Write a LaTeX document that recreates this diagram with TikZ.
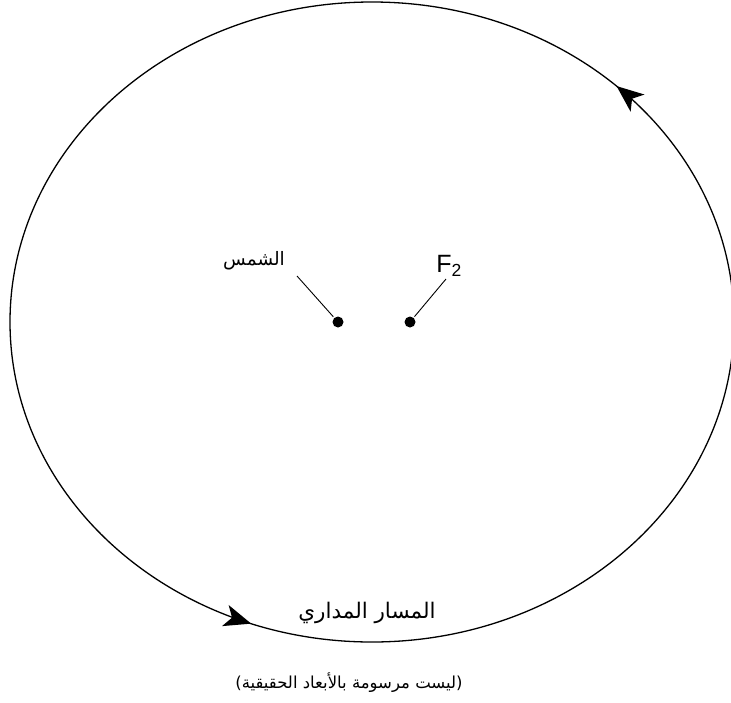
\documentclass[tikz,border=0pt]{standalone}
\usepackage{fontspec}
\setmainfont{Liberation Sans}
\newfontfamily\arabicfont[Script=Arabic]{DejaVu Sans}
\TeXXeTstate=1
\usetikzlibrary{arrows.meta,calc}
\begin{document}
\begin{tikzpicture}[x=1pt,y=1pt,
  orbit/.style={line width=1.3pt},
  tipstyle/.style={line width=1.3pt,-{Stealth[length=27pt,width=22pt,inset=7pt]}},
  dotstyle/.style={circle,fill=black,inner sep=0pt,minimum size=11pt},
  leader/.style={line width=0.9pt},
  artext/.style={font=\arabicfont,inner sep=0pt}]
\useasboundingbox (0,0) rectangle (731,-702);
\begin{scope}
\clip (0,0) rectangle (731,-702);
\draw[orbit] (372,-322) ellipse [x radius=362, y radius=320];
\draw[tipstyle] ([shift={(372,-322)}]46.5:362 and 320) arc[start angle=46.5, end angle=47.5, x radius=362, y radius=320];
\draw[tipstyle] ([shift={(372,-322)}]249.5:362 and 320) arc[start angle=249.5, end angle=250.5, x radius=362, y radius=320];
\end{scope}
\node[dotstyle] (sun) at (338,-322) {};
\node[dotstyle] (f2) at (410,-322) {};
\node[artext,font=\arabicfont\fontsize{18.5}{20}\selectfont] (sunlabel) at (254,-261) {\beginR الشمس\endR};
\node[font=\fontsize{25}{27}\selectfont,inner sep=0pt] (f2label) at (449,-266) {F\textsubscript{2}};
\coordinate (sunend) at (297,-276);
\coordinate (f2end) at (446,-279);
\draw[leader] (sunend) -- ($(sun)!7pt!(sunend)$);
\draw[leader] (f2end) -- ($(f2)!7pt!(f2end)$);
\node[artext,font=\arabicfont\fontsize{21.5}{23}\selectfont] (orbitlabel) at (367,-613) {\beginR المسار المداري\endR};
\node[artext,font=\arabicfont\fontsize{16.5}{19}\selectfont] (note) at (349,-683) {\beginR (ليست مرسومة بالأبعاد الحقيقية)\endR};
\end{tikzpicture}
\end{document}
